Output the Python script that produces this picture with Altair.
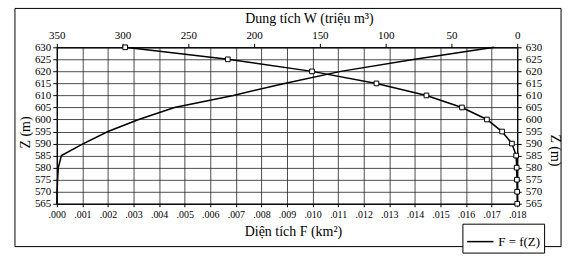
import altair as alt
import pandas as pd

# Elevation Z (m)
Z = [565, 570, 575, 580, 585, 590, 595, 600, 605, 610, 615, 620, 625, 630]
# Surface area F (km2)
F = [0.0, 0.00001, 0.00003, 0.00006, 0.00018, 0.00104, 0.0020, 0.0032,
     0.0046, 0.0069, 0.0089, 0.0111, 0.0140, 0.0171]
# Volume W (million m3)
W = [0.0, 0.05, 0.2, 0.4, 0.8, 4.0, 11.5, 23.0, 42.0, 69.0, 107.0, 156.0,
     220.0, 298.0]

F_TICKS = [round(i * 0.001, 3) for i in range(19)]
W_TICKS = [0, 50, 100, 150, 200, 250, 300, 350]
Z_TICKS = Z

df = pd.DataFrame({"Z": Z, "F": F, "W": W, "series": ["F = f(Z)"] * len(Z)})

FONT = "Liberation Serif"
PW, PH = 462, 157

ydom = alt.Scale(domain=[565, 630], nice=False, zero=False)

common = dict(labelFont=FONT, titleFont=FONT, labelColor="black",
              titleColor="black", titleFontSize=14, titleFontWeight="normal",
              labelOverlap=False, labelFlush=False,
              domainColor="black", tickColor="black")

f_line = alt.Chart(df).mark_line(strokeWidth=1.5).encode(
    x=alt.X("F:Q",
            scale=alt.Scale(domain=[0, 0.018], nice=False),
            axis=alt.Axis(values=F_TICKS, orient="bottom",
                          labelExpr="substring(format(datum.value, '.3f'), 1)",
                          title="Diện tích F (km²)", grid=True,
                          tickSize=3, labelPadding=3, labelFontSize=10,
                          titlePadding=5, titleX=237, **common)),
    y=alt.Y("Z:Q", scale=ydom,
            axis=alt.Axis(values=Z_TICKS, orient="left", title="Z (m)",
                          grid=True, tickSize=4, labelPadding=2,
                          labelFontSize=11,
                          titlePadding=2, titleY=85, **common)),
    order=alt.Order("Z:Q"),
    color=alt.Color("series:N", scale=alt.Scale(range=["black"]),
                    legend=alt.Legend(title=None, orient="none",
                                      legendX=407, legendY=177,
                                      symbolType="stroke", symbolSize=700,
                                      symbolStrokeWidth=1.5,
                                      strokeColor="black", padding=4,
                                      labelFontSize=13, labelFont=FONT,
                                      labelColor="black",
                                      fillColor="white")),
)

w_line = alt.Chart(df).mark_line(
    color="black", strokeWidth=1.5,
    point=alt.OverlayMarkDef(shape="square", filled=True, fill="white",
                             stroke="black", strokeWidth=1, size=22),
).encode(
    x=alt.X("W:Q",
            scale=alt.Scale(domain=[350, 0], nice=False),
            axis=alt.Axis(values=W_TICKS, orient="top",
                          title="Dung tích W (triệu m³)", grid=False,
                          tickSize=4, labelPadding=3, labelFontSize=11,
                          titlePadding=4, titleX=253, **common)),
    y=alt.Y("Z:Q", scale=ydom,
            axis=alt.Axis(values=Z_TICKS, orient="right", title="Z (m)",
                          grid=False, tickSize=4, labelPadding=4,
                          labelFontSize=11, titlePadding=6, titleY=103,
                          **common)),
    order=alt.Order("Z:Q"),
)

frame = alt.Chart(pd.DataFrame({"a": [0]})).mark_rect(
    fillOpacity=0, stroke="black", strokeWidth=1
).encode(
    x=alt.value(-42), x2=alt.value(506),
    y=alt.value(-39), y2=alt.value(200),
)

chart = alt.layer(f_line, w_line, frame).resolve_scale(
    x="independent", y="independent", color="independent"
).properties(
    width=PW, height=PH,
    padding={"left": 14, "top": 7, "right": 14, "bottom": 11},
    background="white",
).configure_axis(
    gridColor="#222222", gridWidth=0.8, gridOpacity=1,
).configure_view(
    stroke="black", strokeWidth=1,
)

chart.save("out.html", embed_options={"renderer": "svg", "actions": False})
